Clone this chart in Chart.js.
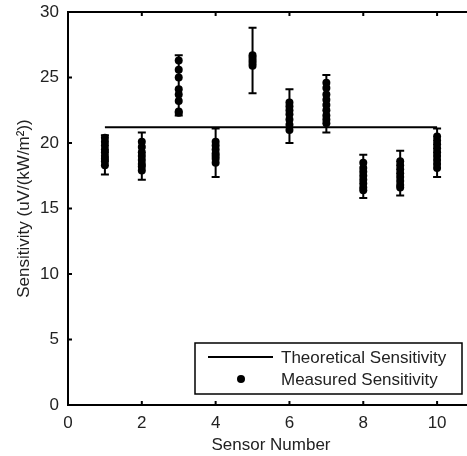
<!DOCTYPE html>
<html>
<head>
<meta charset="utf-8">
<script src="https://cdn.jsdelivr.net/npm/chart.js@4/dist/chart.umd.min.js"></script>
<style>
  html, body { margin: 0; padding: 0; background: #fff; overflow: hidden; }
  #wrap { width: 467px; height: 456px; overflow: hidden; position: relative; }
  #grafico { position: absolute; left: 0; top: 0; }
</style>
</head>
<body>
<div id="wrap"><canvas id="grafico" width="478" height="456"></canvas></div>
<script>
// dados
const sensores = [1, 2, 3, 4, 5, 6, 7, 8, 9, 10];
const medidas = [
  [20.4, 20.1, 19.8, 19.5, 19.3, 19.0, 18.8, 18.6, 18.3],
  [20.1, 19.7, 19.3, 19.0, 18.7, 18.4, 18.2, 17.9],
  [26.3, 25.6, 25.0, 24.1, 23.7, 23.2, 22.4, 22.3],
  [20.1, 19.8, 19.5, 19.2, 19.0, 18.8, 18.5],
  [26.7, 26.5, 26.3, 26.1, 25.9],
  [23.1, 22.8, 22.5, 22.2, 21.8, 21.4, 21.0],
  [24.6, 24.2, 23.7, 23.3, 22.9, 22.5, 22.1, 21.8, 21.5],
  [18.5, 18.1, 17.8, 17.5, 17.2, 16.9, 16.6, 16.4],
  [18.6, 18.3, 18.0, 17.7, 17.4, 17.1, 16.8, 16.6],
  [20.5, 20.2, 19.9, 19.6, 19.3, 19.0, 18.7, 18.4, 18.1]
];
const erroSup = [20.6, 20.8, 26.7, 21.1, 28.8, 24.1, 25.2, 19.1, 19.4, 21.1];
const erroInf = [17.6, 17.2, 22.1, 17.4, 23.8, 20.0, 20.8, 15.8, 16.0, 17.4];
const teorico = 21.2;
const ticksX = [0, 2, 4, 6, 8, 10];
const ticksY = [0, 5, 10, 15, 20, 25, 30];

const fonte = '"Liberation Sans", Arial, sans-serif';
const tam = 17;

const pontos = [];
sensores.forEach((s, i) => medidas[i].forEach(v => pontos.push({ x: s, y: v })));

// barras de erro, ticks internos, moldura e legenda
const extras = {
  id: 'extras',
  beforeDatasetsDraw(chart) {
    const ctx = chart.ctx;
    const xs = chart.scales.x, ys = chart.scales.y;
    ctx.save();
    ctx.strokeStyle = '#000';
    ctx.lineWidth = 2;
    sensores.forEach((s, i) => {
      const px = xs.getPixelForValue(s);
      const t = ys.getPixelForValue(erroSup[i]);
      const b = ys.getPixelForValue(erroInf[i]);
      ctx.beginPath();
      ctx.moveTo(px, t); ctx.lineTo(px, b);
      ctx.moveTo(px - 4, t); ctx.lineTo(px + 4, t);
      ctx.moveTo(px - 4, b); ctx.lineTo(px + 4, b);
      ctx.stroke();
    });
    ctx.restore();
  },
  afterDraw(chart) {
    const ctx = chart.ctx;
    const a = chart.chartArea;
    const xs = chart.scales.x, ys = chart.scales.y;
    ctx.save();
    ctx.strokeStyle = '#000';
    ctx.lineWidth = 2;
    ctx.strokeRect(a.left, a.top, a.right - a.left, a.bottom - a.top);
    ctx.beginPath();
    ticksX.forEach(v => {
      const px = xs.getPixelForValue(v);
      ctx.moveTo(px, a.bottom); ctx.lineTo(px, a.bottom - 4);
      ctx.moveTo(px, a.top); ctx.lineTo(px, a.top + 4);
    });
    ticksY.forEach(v => {
      const py = ys.getPixelForValue(v);
      ctx.moveTo(a.left, py); ctx.lineTo(a.left + 4, py);
      ctx.moveTo(a.right, py); ctx.lineTo(a.right - 4, py);
    });
    ctx.stroke();

    // legenda
    const lx = 195, ly = 343, lw = 267, lh = 51;
    ctx.fillStyle = '#fff';
    ctx.fillRect(lx, ly, lw, lh);
    ctx.lineWidth = 1.5;
    ctx.strokeRect(lx, ly, lw, lh);
    ctx.lineWidth = 2;
    ctx.beginPath();
    ctx.moveTo(208, 357); ctx.lineTo(273, 357);
    ctx.stroke();
    ctx.fillStyle = '#000';
    ctx.beginPath();
    ctx.arc(241, 379, 4, 0, Math.PI * 2);
    ctx.fill();
    ctx.fillStyle = '#222';
    ctx.font = tam + 'px ' + fonte;
    ctx.textBaseline = 'middle';
    ctx.textAlign = 'left';
    ctx.fillText('Theoretical Sensitivity', 281, 358);
    ctx.fillText('Measured Sensitivity', 281, 380);
    ctx.restore();
  }
};

const ctx = document.getElementById('grafico').getContext('2d');
const grafico = new Chart(ctx, {
  type: 'scatter',
  data: {
    datasets: [
      {
        label: 'Theoretical Sensitivity',
        type: 'line',
        data: [{ x: sensores[0], y: teorico }, { x: sensores[sensores.length - 1], y: teorico }],
        borderColor: '#000',
        borderWidth: 2,
        pointRadius: 0,
        fill: false
      },
      {
        label: 'Measured Sensitivity',
        data: pontos,
        backgroundColor: '#000',
        borderColor: '#000',
        pointRadius: 4,
        borderWidth: 0
      }
    ]
  },
  options: {
    responsive: false,
    animation: false,
    layout: { padding: { top: 12, right: 0, left: 0, bottom: 0 } },
    plugins: {
      legend: { display: false },
      tooltip: { enabled: false }
    },
    scales: {
      x: {
        type: 'linear',
        min: 0,
        max: 11,
        afterBuildTicks: s => { s.ticks = ticksX.map(v => ({ value: v })); },
        afterFit: s => { s.height = 51; s.paddingLeft = 0; s.paddingRight = 0; },
        grid: { display: false, drawTicks: false },
        border: { display: false },
        ticks: { color: '#222', font: { family: fonte, size: tam }, padding: 8 },
        title: {
          display: true,
          text: 'Sensor Number',
          color: '#222',
          font: { family: fonte, size: tam },
          padding: { top: 3, bottom: 0 }
        }
      },
      y: {
        min: 0,
        max: 30,
        afterBuildTicks: s => { s.ticks = ticksY.map(v => ({ value: v })); },
        afterFit: s => { s.width = 68; s.paddingTop = 0; s.paddingBottom = 0; },
        grid: { display: false, drawTicks: false },
        border: { display: false },
        ticks: { color: '#222', font: { family: fonte, size: tam }, padding: 9 },
        title: {
          display: true,
          text: 'Sensitivity (uV/(kW/m²))',
          color: '#222',
          font: { family: fonte, size: tam },
          padding: { top: 14, bottom: 0 }
        }
      }
    }
  },
  plugins: [extras]
});
</script>
</body>
</html>
